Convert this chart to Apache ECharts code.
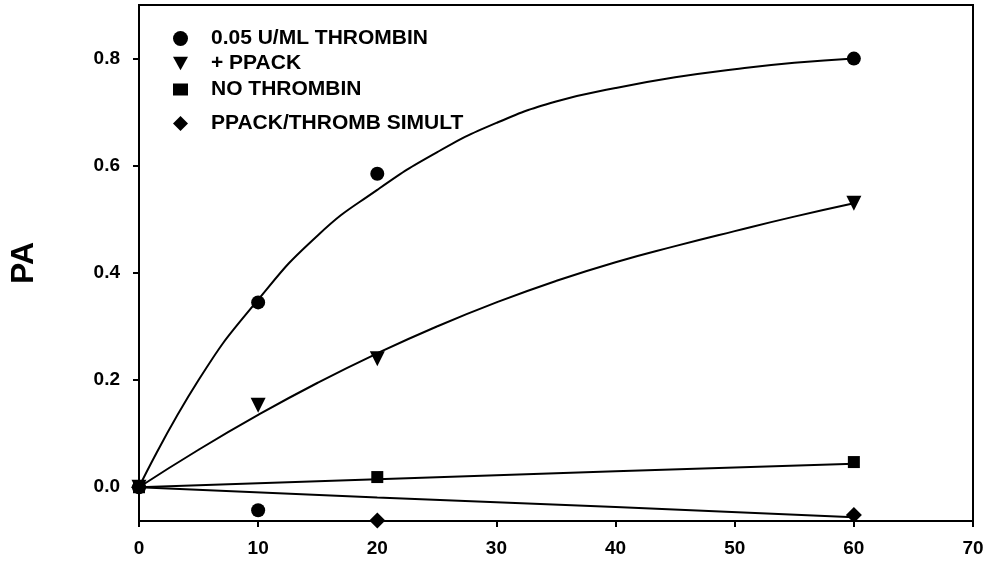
<!DOCTYPE html>
<html>
<head>
<meta charset="utf-8">
<script src="https://cdn.jsdelivr.net/npm/echarts@6/dist/echarts.min.js"></script>
<style>html,body{margin:0;padding:0;background:#fff}#c{width:989px;height:565px}</style>
</head>
<body>
<div id="c"></div>
<script>
// ---- data ----
var seriesNames = ['0.05 U/ML THROMBIN', '+ PPACK', 'NO THROMBIN', 'PPACK/THROMB SIMULT'];
var xTicks = [0, 10, 20, 30, 40, 50, 60, 70];
var yTicks = [0, 0.2, 0.4, 0.6, 0.8];

// measured points
var thrombinPts = [[0, 0], [10, 0.345], [20, 0.585], [60, 0.80]];
var ppackPts = [[0, 0], [10, 0.153], [20, 0.24], [60, 0.53]];
var noThrombinPts = [[0, 0], [20, 0.019], [60, 0.047]];
var simultPts = [[0, 0], [10, -0.043], [20, -0.062], [60, -0.052]];

// fitted curves
var thrombinFit = [[0, 0], [5, 0.20], [10, 0.35], [15, 0.47], [20, 0.555], [25, 0.625], [30, 0.68], [35, 0.72], [40, 0.745], [45, 0.765], [50, 0.78], [55, 0.792], [60, 0.80]];
var ppackFit = [[0, 0], [5, 0.07], [10, 0.135], [15, 0.195], [20, 0.25], [25, 0.30], [30, 0.345], [35, 0.385], [40, 0.42], [45, 0.45], [50, 0.478], [55, 0.505], [60, 0.53]];
var noThrombinFit = [[0, 0], [20, 0.015], [40, 0.03], [60, 0.044]];
var simultFit = [[0, 0], [20, -0.019], [40, -0.037], [60, -0.056]];

var triDown = 'path://M0,0 L10,0 L5,9 Z';
var symbols = ['circle', triDown, 'rect', 'diamond'];
var symSizes = [14, 15, 12, 16];
var legendTops = [23, 48, 74, 108];

var chart = echarts.init(document.getElementById('c'));
var font = 'Liberation Sans, Arial, sans-serif';

function fitSeries(d) {
  return { type: 'line', data: d, smooth: true, symbol: 'none', silent: true,
    lineStyle: { color: '#000', width: 2 }, z: 2, animation: false };
}

var pointData = [thrombinPts, ppackPts, noThrombinPts, simultPts];
var series = [];
pointData.forEach(function (pts, i) {
  var data = pts.map(function (p) {
    var item = { value: p };
    if (i === 3 && p[0] === 10) { item.symbol = 'circle'; item.symbolSize = 14; }
    return item;
  });
  series.push({ type: 'scatter', name: seriesNames[i], data: data, symbol: symbols[i],
    symbolSize: symSizes[i], itemStyle: { color: '#000', opacity: 1 }, z: 8 - i, animation: false });
});
series.push(fitSeries(thrombinFit), fitSeries(ppackFit), fitSeries(noThrombinFit), fitSeries(simultFit));

var legends = seriesNames.map(function (n, i) {
  return {
    left: 168, top: legendTops[i], orient: 'vertical',
    data: [{ name: n, icon: symbols[i], itemStyle: { color: '#000', opacity: 1 } }],
    itemWidth: 15, itemHeight: i === 2 ? 12 : 15,
    selectedMode: false,
    textStyle: { fontFamily: font, fontWeight: 'bold', fontSize: 21, color: '#000', padding: [0, 0, 0, 18] }
  };
});

chart.setOption({
  backgroundColor: '#fff',
  animation: false,
  grid: { left: 136, right: 16, top: 5, bottom: 44, show: true, borderColor: '#000', borderWidth: 2, containLabel: false },
  legend: legends,
  xAxis: {
    type: 'value', min: 0, max: 70, interval: 10,
    axisLine: { show: true, onZero: false, lineStyle: { color: '#000', width: 2 } },
    axisTick: { show: true, inside: false, length: 6, lineStyle: { color: '#000', width: 2 } },
    splitLine: { show: false },
    axisLabel: { color: '#000', fontFamily: font, fontWeight: 'bold', fontSize: 19, margin: 18,
      customValues: xTicks },
  },
  yAxis: {
    type: 'value', min: -0.063, max: 0.9,
    name: 'PA', nameLocation: 'middle', nameGap: 99, nameRotate: 90,
    nameTextStyle: { color: '#000', fontFamily: font, fontWeight: 'bold', fontSize: 32 },
    axisLine: { show: true, onZero: false, lineStyle: { color: '#000', width: 2 } },
    axisTick: { show: true, inside: false, length: 6, customValues: yTicks, lineStyle: { color: '#000', width: 2 } },
    splitLine: { show: false },
    axisLabel: { color: '#000', fontFamily: font, fontWeight: 'bold', fontSize: 19, margin: 19,
      customValues: yTicks, formatter: function (v) { return v.toFixed(1); } }
  },
  series: series
});
</script>
</body>
</html>
